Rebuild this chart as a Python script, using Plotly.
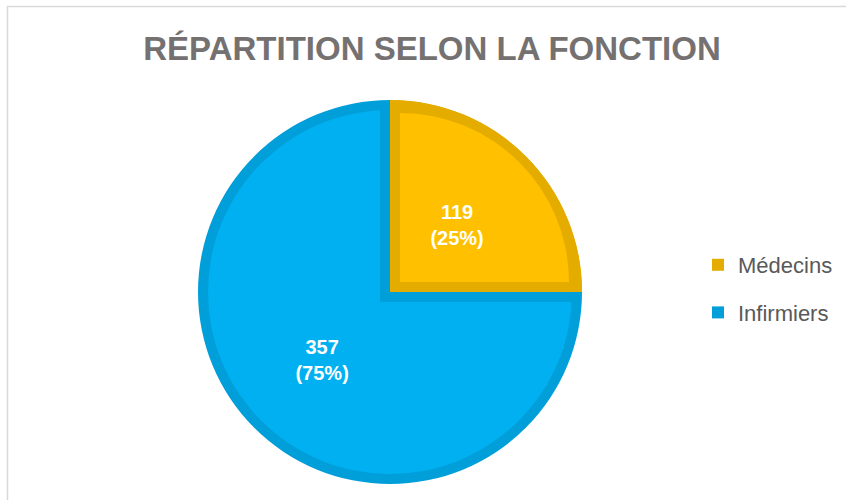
import plotly.graph_objects as go

# ---- data ----
categories = ["Médecins", "Infirmiers"]
values = [119, 357]
title_text = "RÉPARTITION SELON LA FONCTION"

# ---- styling / geometry ----
W, H = 846, 500
fill_colors = ["#FFC000", "#00B0F0"]
edge_colors = ["#E5AC00", "#009FDA"]
CLEAR = "rgba(0,0,0,0)"
FONT = "Liberation Sans, Arial, sans-serif"
LABEL_TPL = "%{value}<br>(%{percent})"

CX, CY, R, B = 390, 292, 192, 10  # pie centre / radius / border (px)


def dom(cx, cy, r):
    return dict(x=[(cx - r) / W, (cx + r) / W],
                y=[(H - cy - r) / H, (H - cy + r) / H])


def pie(colors, domain, **kw):
    args = dict(labels=categories, values=values, sort=False,
                direction="clockwise", rotation=0, hoverinfo="skip",
                textinfo="none", showlegend=False,
                marker=dict(colors=colors, line=dict(width=0)),
                domain=domain)
    args.update(kw)
    return go.Pie(**args)


fig = go.Figure()

# legend entries (hidden under the pie)
for i, (lab, val) in enumerate(zip(categories, values)):
    fig.add_trace(go.Pie(labels=[lab], values=[val], sort=False,
                         marker=dict(colors=[edge_colors[i]], line=dict(width=0)),
                         domain=dom(CX, CY, 60), textinfo="none",
                         hoverinfo="skip", showlegend=True, legendgroup=lab))

# layered pie to get inner borders
fig.add_trace(pie([edge_colors[0], edge_colors[1]], dom(CX, CY, R)))
fig.add_trace(pie([CLEAR, fill_colors[1]], dom(CX, CY, R - B)))
fig.add_trace(pie([edge_colors[1], CLEAR], dom(CX - B, CY + B, H - (CY + B))))
fig.add_trace(pie([edge_colors[0], CLEAR], dom(CX, CY, R)))
fig.add_trace(pie([fill_colors[0], CLEAR], dom(CX + B, CY - B, R - 2.3 * B)))

# data labels
label_font = dict(color="white", size=20, family=FONT, weight="bold")
fig.add_trace(pie([CLEAR, CLEAR], dom(CX, CY, R),
                  texttemplate=["", LABEL_TPL],
                  textposition="inside", insidetextorientation="horizontal",
                  textfont=label_font))
fig.add_trace(pie([CLEAR, CLEAR], dom(CX, CY, 162),
                  texttemplate=[LABEL_TPL, ""],
                  textposition="inside", insidetextorientation="horizontal",
                  textfont=label_font))

fig.update_layout(
    width=W, height=H,
    margin=dict(l=0, r=0, t=0, b=0),
    paper_bgcolor="white", plot_bgcolor="white",
    title=dict(text=title_text, x=432 / W, xanchor="center",
               y=(H - 48) / H, yanchor="middle", yref="container",
               font=dict(family=FONT, size=33, color="#757171", weight="bold")),
    legend=dict(x=698 / W, xanchor="left", y=(H - 289) / H, yanchor="middle",
                font=dict(family=FONT, size=22, color="#595959"),
                traceorder="grouped", tracegroupgap=16, itemwidth=30,
                bgcolor="rgba(0,0,0,0)"),
    shapes=[dict(type="rect", xref="paper", yref="paper",
                 x0=7.5 / W, x1=1.02, y0=-0.02, y1=(H - 6.5) / H,
                 line=dict(color="#D9D9D9", width=1.5), layer="below")],
)

fig.write_html("out.html",
               config={"displayModeBar": False},
               post_script="document.body.style.margin='0';"
                           "document.body.style.overflow='hidden';")
